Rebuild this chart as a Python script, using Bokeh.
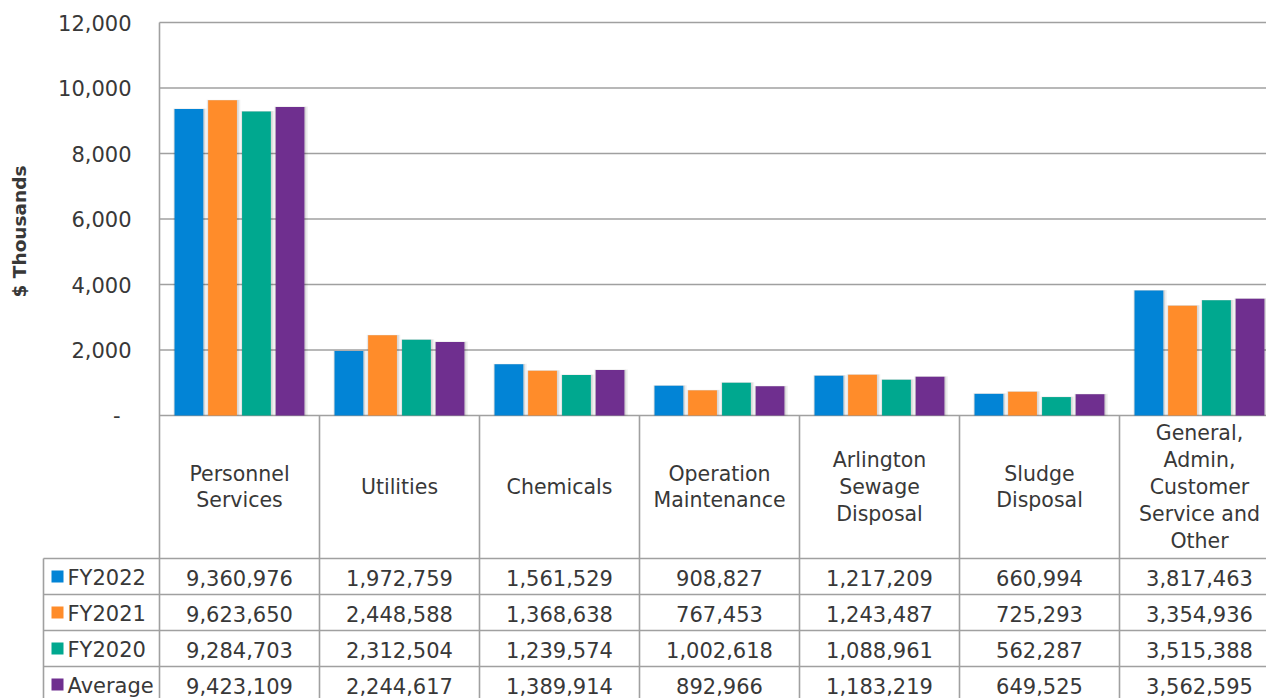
from bokeh.plotting import figure
from bokeh.models import Range1d
from bokeh.core.properties import value
from bokeh.embed import file_html
from bokeh.resources import INLINE

# ---------------- data ----------------
CATEGORIES = [
    "Personnel\nServices",
    "Utilities",
    "Chemicals",
    "Operation\nMaintenance",
    "Arlington\nSewage\nDisposal",
    "Sludge\nDisposal",
    "General,\nAdmin,\nCustomer\nService and\nOther",
]
SERIES = ["FY2022", "FY2021", "FY2020", "Average"]
FY2022 = [9360976, 1972759, 1561529, 908827, 1217209, 660994, 3817463]
FY2021 = [9623650, 2448588, 1368638, 767453, 1243487, 725293, 3354936]
FY2020 = [9284703, 2312504, 1239574, 1002618, 1088961, 562287, 3515388]
AVERAGE = [9423109, 2244617, 1389914, 892966, 1183219, 649525, 3562595]
Y_TICKS = [0, 2000, 4000, 6000, 8000, 10000, 12000]
Y_LABEL = "$ Thousands"

COLORS = ["#0284D6", "#FF8C2A", "#00A88F", "#6F2F8F"]
SERIES_VALUES = [FY2022, FY2021, FY2020, AVERAGE]

# ---------------- layout constants (pixels) ----------------
W, H = 1266, 698
LEFT = 159          # x of plot-area left edge
CAT_W = 160         # px per category
TOP = 22            # y of 12,000
ZERO = 415          # y of 0
HEAD_BOTTOM = 558   # bottom of category header cells
ROW_H = 36
LEG_LEFT = 43
YMAX = 12000

k = (ZERO - TOP) / YMAX  # px per thousand


def cx(px):
    return (px - LEFT) / CAT_W


GRID_COLOR = "#a0a0a0"
TEXT_COLOR = "#383838"
FONT = value("DejaVu Sans")

p = figure(
    width=W, height=H, output_backend="svg", toolbar_location=None,
    x_range=Range1d(cx(0), cx(W)),
    y_range=Range1d(-(H - ZERO) / k, YMAX + TOP / k),
    x_axis_location=None, y_axis_location=None,
    min_border=0, outline_line_color=None,
)
p.extra_y_ranges = {"px": Range1d(H, 0)}
p.xgrid.visible = False
p.ygrid.visible = False
p.background_fill_color = "white"
p.border_fill_color = "white"

n = len(CATEGORIES)

# gridlines
p.segment(x0=[0] * len(Y_TICKS), x1=[n] * len(Y_TICKS), y0=Y_TICKS, y1=Y_TICKS,
          line_color=GRID_COLOR, line_width=1.6)

# bars
offsets = [-0.316, -0.106, 0.106, 0.316]
bw = 0.18
for vals, col, off in zip(SERIES_VALUES, COLORS, offsets):
    xs = [i + 0.5 + off for i in range(n)]
    tops = [v / 1000 for v in vals]
    # soft shadow
    p.vbar(x=[x + 0.006 for x in xs], top=[t + 15 for t in tops], bottom=0, width=bw + 0.03,
           fill_color="black", fill_alpha=0.06, line_color=None)
    p.vbar(x=[x + 0.004 for x in xs], top=[t + 8 for t in tops], bottom=0, width=bw + 0.014,
           fill_color="black", fill_alpha=0.10, line_color=None)
    p.vbar(x=xs, top=tops, bottom=0, width=bw, fill_color=col, line_color=None)

# y tick labels
tick_text = [f"{t:,}" if t else "-\u00a0\u2009" for t in Y_TICKS]
p.text(x=[cx(131)] * len(Y_TICKS), y=Y_TICKS, text=tick_text,
       text_font=FONT, text_font_size="21px", text_color=TEXT_COLOR,
       text_align="right", text_baseline="middle")

# y axis title
p.text(x=[cx(19)], y=[231], y_range_name="px", text=[Y_LABEL], angle=1.5708,
       text_font=FONT, text_font_size="18.5px", text_font_style="bold",
       text_color=TEXT_COLOR, text_align="center", text_baseline="middle")

# ---------------- table ----------------
rows_top = [HEAD_BOTTOM + r * ROW_H for r in range(len(SERIES))]
# horizontal lines
p.segment(x0=[cx(LEG_LEFT)] * len(rows_top), x1=[n] * len(rows_top),
          y0=rows_top, y1=rows_top, y_range_name="px",
          line_color=GRID_COLOR, line_width=1.6)
# vertical lines
p.segment(x0=list(range(1, n + 1)), x1=list(range(1, n + 1)),
          y0=[ZERO] * n, y1=[H] * n, y_range_name="px",
          line_color=GRID_COLOR, line_width=1.6)
p.segment(x0=[0], x1=[0], y0=[TOP], y1=[H], y_range_name="px",
          line_color=GRID_COLOR, line_width=1.6)
p.segment(x0=[cx(LEG_LEFT)], x1=[cx(LEG_LEFT)], y0=[HEAD_BOTTOM], y1=[H],
          y_range_name="px", line_color=GRID_COLOR, line_width=1.6)

# category headers
p.text(x=[i + 0.5 for i in range(n)], y=[(ZERO + HEAD_BOTTOM) / 2] * n,
       text=CATEGORIES, y_range_name="px",
       text_font=FONT, text_font_size="20.5px", text_color=TEXT_COLOR,
       text_align="center", text_baseline="middle", text_line_height=1.12)

# legend cells + values
for r, (name, col, vals) in enumerate(zip(SERIES, COLORS, SERIES_VALUES)):
    yc = rows_top[r] + ROW_H / 2
    p.rect(x=[cx(57)], y=[yc], width=12, height=12, width_units="screen",
           height_units="screen", y_range_name="px", fill_color=col, line_color=None)
    p.text(x=[cx(67)], y=[yc + 1], text=[name], y_range_name="px",
           text_font=FONT, text_font_size="21px", text_color=TEXT_COLOR,
           text_align="left", text_baseline="middle")
    p.text(x=[i + 0.5 for i in range(n)], y=[yc + 1] * n,
           text=[f"{v:,}" for v in vals], y_range_name="px",
           text_font=FONT, text_font_size="21px", text_color=TEXT_COLOR,
           text_align="center", text_baseline="middle")

open("out.html", "w").write(file_html(p, INLINE))
